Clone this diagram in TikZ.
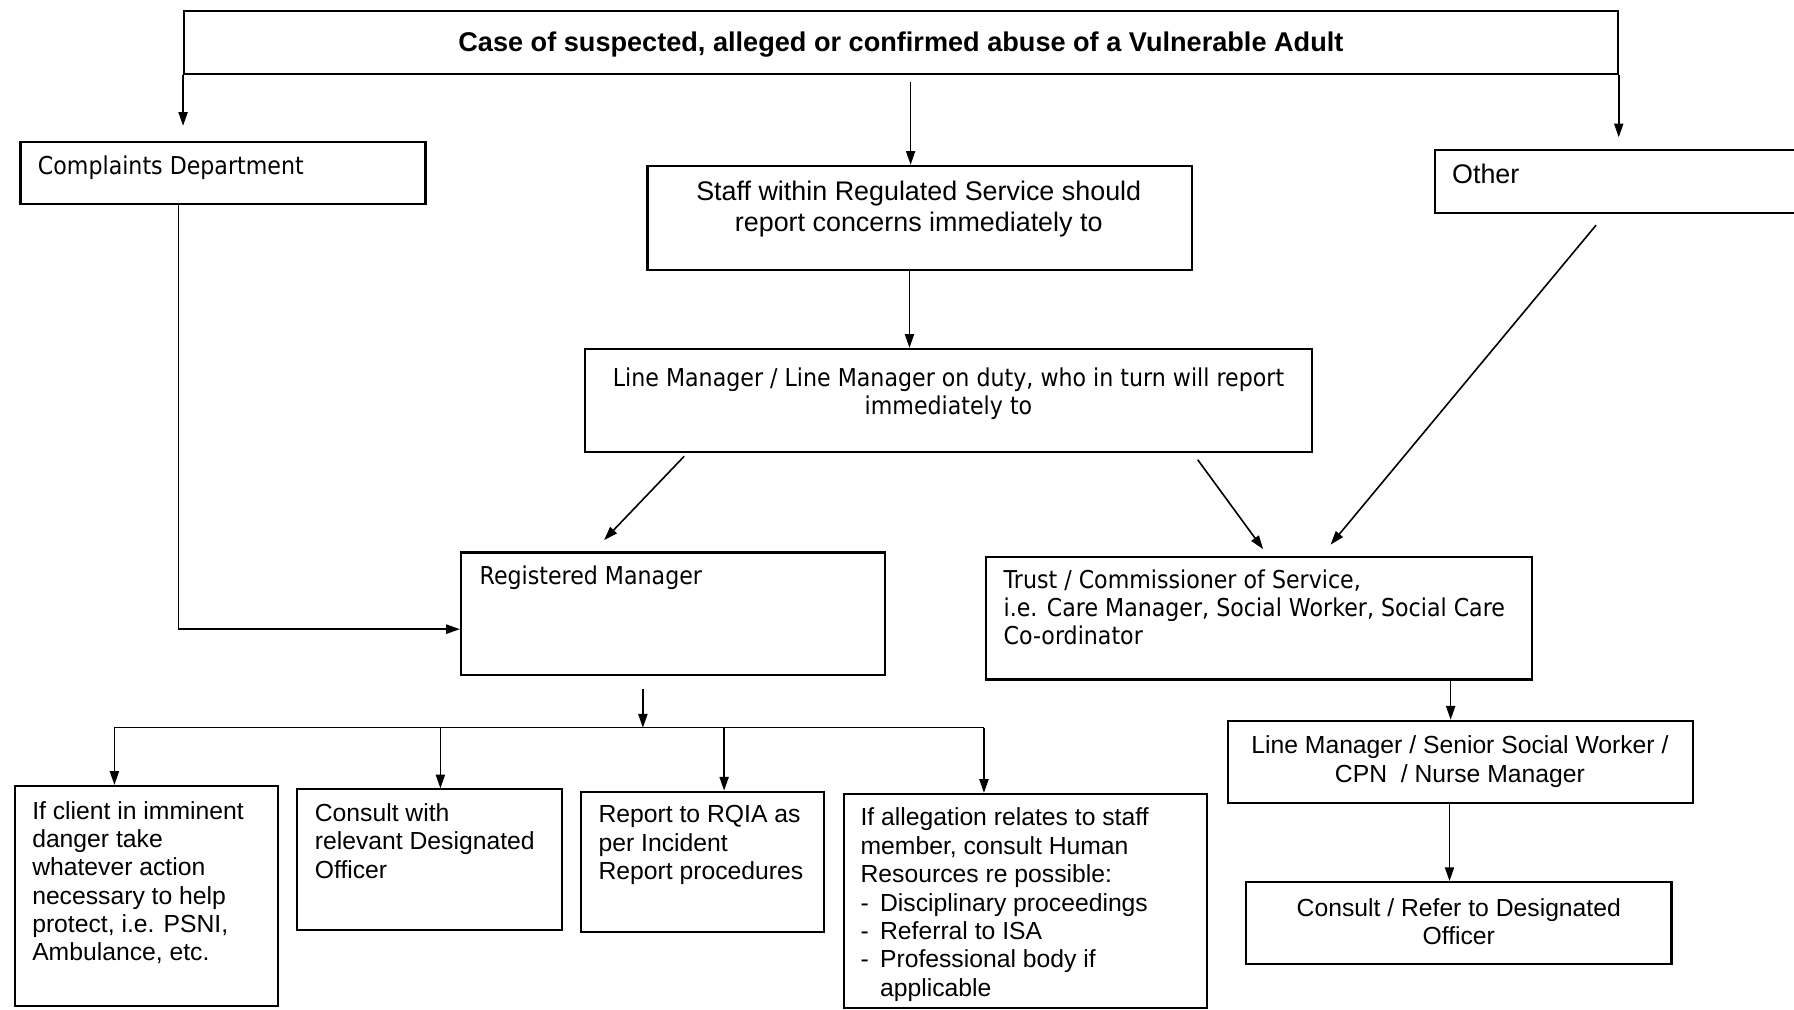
\documentclass[tikz,border=0pt]{standalone}
\usepackage{fontspec}
\setmainfont{Liberation Sans}
\newfontfamily\tahoma[FakeStretch=0.9]{DejaVu Sans}
\usetikzlibrary{arrows.meta,calc}

\begin{document}
\begin{tikzpicture}[x=1pt,y=-1pt,
  box/.style={draw, line width=1.8pt, rectangle, inner sep=0pt, anchor=north west},
  arr/.style={line width=1.4pt, -{Triangle[length=12pt,width=8pt]}},
  link/.style={line width=1.4pt},
  txt/.style={inner sep=0pt, align=left, font=\fontsize{21.6}{24.8}\selectfont},
  ctxt/.style={inner sep=0pt, align=center, font=\fontsize{21.6}{24.8}\selectfont},
  btxt/.style={inner sep=0pt, font=\fontsize{23.5}{27}\selectfont},
  ttxt/.style={inner sep=0pt, align=left, font=\tahoma\fontsize{21.5}{24.6}\selectfont},
]
\useasboundingbox (0,0) rectangle (1568,882);
\fill[white] (0,0) rectangle (1568,882);
\clip (0,0) rectangle (1568,882);

% ---- boxes ----
\node[box, minimum width=1253, minimum height=55] (title) at (160,9) {};
\node[box, minimum width=354, minimum height=54]  (cd)    at (17,123)  {};
\node[box, minimum width=476, minimum height=91]  (staff) at (565,144) {};
\node[box, minimum width=330, minimum height=55]  (other) at (1253,130) {};
\node[box, minimum width=636, minimum height=90]  (lm)    at (510,304) {};
\node[box, minimum width=371, minimum height=107] (rm)    at (402,482) {};
\node[box, minimum width=477, minimum height=107] (trust) at (861,486) {};
\node[box, minimum width=407, minimum height=72]  (lm2)   at (1072,629) {};
\node[box, minimum width=372, minimum height=72]  (cons)  at (1088,770) {};
\node[box, minimum width=230, minimum height=192] (b1)    at (12,686) {};
\node[box, minimum width=231, minimum height=123] (b2)    at (259,689) {};
\node[box, minimum width=212, minimum height=123] (b3)    at (507,691) {};
\node[box, minimum width=317, minimum height=187] (b4)    at (737,693) {};

% ---- texts ----
\node[inner sep=0pt, font=\bfseries\fontsize{23.7}{27}\selectfont] (titlet)
  at ([yshift=-1.5pt]title.center)
  {Case of suspected, alleged or confirmed abuse of a Vulnerable Adult};
\node[ttxt, anchor=north west] (cdt) at (33,136) {Complaints Department};
\node[btxt, anchor=north, align=center] (stafft) at (803,158)
  {Staff within Regulated Service should\\report concerns immediately to};
\node[btxt, anchor=north west] (othert) at (1269,143) {Other};
\node[ttxt, anchor=north, align=center] (lmt) at (829,321)
  {Line Manager / Line Manager on duty, who in turn will report\\immediately to};
\node[ttxt, anchor=north west] (rmt) at (419,494) {Registered Manager};
\node[ttxt, anchor=north west] (trustt) at (877,498)
  {Trust / Commissioner of Service,\\i.e. Care Manager, Social Worker, Social Care\\Co-ordinator};
\node[ctxt, anchor=north] (lm2t) at (1276,643)
  {Line Manager / Senior Social Worker /\\CPN\ \ / Nurse Manager};
\node[ctxt, anchor=north] (const) at (1275,785)
  {Consult / Refer to Designated\\Officer};
\node[txt, anchor=north west] (b1t) at (28,700)
  {If client in imminent\\danger take\\whatever action\\necessary to help\\protect, i.e. PSNI,\\Ambulance, etc.};
\node[txt, anchor=north west] (b2t) at (275,702)
  {Consult with\\relevant Designated\\Officer};
\node[txt, anchor=north west] (b3t) at (523,704)
  {Report to RQIA as\\per Incident\\Report procedures};
\node[txt, anchor=north west] (b4t) at (752,706)
  {If allegation relates to staff\\member, consult Human\\Resources re possible:\\
   \makebox[17pt][l]{-}Disciplinary proceedings\\
   \makebox[17pt][l]{-}Referral to ISA\\
   \makebox[17pt][l]{-}Professional body if\\
   \hspace*{17pt}applicable};

% ---- connectors ----
\draw[arr, shorten >=13pt] (title.south west) -- (title.south west |- cd.north);
\draw[arr, shorten >=10pt] (title.south east) -- (title.south east |- other.north);
\draw[arr, shorten <=6pt] ([xshift=8.5pt]title.south) -- ([xshift=-8pt]staff.north);
\draw[arr] ([xshift=-9pt]staff.south) -- ([xshift=-9pt]staff.south |- lm.north);
\draw[arr] ([shift={(88,3)}]lm.south west) -- ([shift={(126,-10)}]rm.north west);
\draw[arr] ([shift={(-101,6)}]lm.south east) -- ([shift={(243,-6)}]trust.north west);
\draw[arr] ([shift={(142,10)}]other.south west) -- ([shift={(302,-10)}]trust.north west);
\draw[arr] ([xshift=139pt]cd.south west) |- ([yshift=-13.5pt]rm.west);

\coordinate (busL) at (100,636);
\coordinate (busR) at (860,636);
\draw[link] (busL) -- (busR);
\draw[arr, shorten <=11pt] ([xshift=-26.5pt]rm.south) -- ([xshift=-26.5pt]rm.south |- busL);
\draw[arr] (busL) -- (busL |- b1.north);
\draw[arr] ([xshift=9.5pt]b2.north |- busL) -- ([xshift=9.5pt]b2.north);
\draw[arr] ([xshift=19pt]b3.north |- busL) -- ([xshift=19pt]b3.north);
\draw[arr] (busR) -- (busR |- b4.north);

\draw[arr] ([xshift=-8.5pt]lm2.north |- trust.south) -- ([xshift=-8.5pt]lm2.north);
\draw[arr] ([xshift=-9.5pt]lm2.south) -- ([xshift=-9.5pt]lm2.south |- cons.north);
\end{tikzpicture}
\end{document}
